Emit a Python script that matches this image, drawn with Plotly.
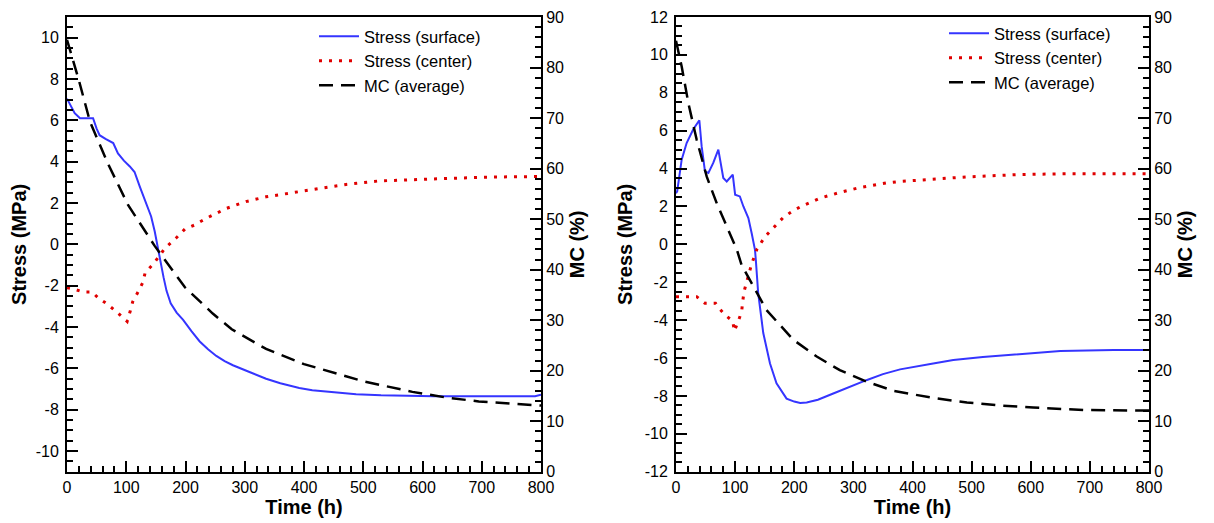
import plotly.graph_objects as go

# ---------------- Left panel data ----------------
t_surf_L = [0, 5, 13, 22, 44, 50, 55, 65, 78, 86, 96, 106, 114, 123, 134, 142, 148, 152, 157, 163, 168, 175, 185, 196,
            210, 224, 238, 252, 266, 280, 310, 336, 360, 392, 414, 450, 488, 530, 572, 620, 695, 750, 790, 800]
s_surf_L = [7.05, 6.8, 6.35, 6.1, 6.1, 5.6, 5.28, 5.1, 4.9, 4.4, 4.05, 3.77, 3.5, 2.78, 1.9, 1.35, 0.63, 0.0, -0.68,
            -1.6, -2.25, -2.85, -3.3, -3.65, -4.2, -4.7, -5.08, -5.4, -5.65, -5.85, -6.2, -6.5, -6.72, -6.95, -7.06,
            -7.17, -7.25, -7.3, -7.33, -7.35, -7.35, -7.35, -7.35, -7.28]

t_cen_L = [0, 10, 27, 42, 53, 66, 81, 90, 101.5, 107, 111, 120, 128, 132, 145, 157, 165, 185, 199, 215, 235, 269, 302,
           336, 375, 414, 471, 527, 583, 639, 695, 750, 800]
s_cen_L = [-2.1, -2.15, -2.3, -2.3, -2.6, -2.85, -3.2, -3.45, -3.73, -3.2, -2.77, -2.3, -1.84, -1.36, -0.97, -0.52,
           -0.19, 0.33, 0.74, 0.93, 1.26, 1.74, 2.07, 2.3, 2.48, 2.63, 2.9, 3.07, 3.13, 3.2, 3.24, 3.27, 3.28]

t_mc_L = [0, 10, 20, 39, 69, 103, 148, 199, 246, 278, 336, 400, 451, 500, 583, 639, 695, 751, 800]
mc_L = [85.5, 81.5, 77.5, 69.2, 61.0, 52.8, 44.7, 36.5, 31.3, 28.2, 24.3, 21.3, 19.5, 17.9, 15.8, 14.7, 13.9, 13.4, 13.1]

# ---------------- Right panel data ----------------
t_surf_R = [0, 2, 9.6, 18, 29, 39.5, 43.4, 49, 54.8, 63, 71.6, 80, 85.8, 96, 100, 108, 114, 122.4, 128, 133.6, 135, 139,
            147.6, 159, 170, 187, 200, 210, 221, 240, 266, 295, 322, 350, 379, 435, 469, 519, 587, 650, 740, 800]
s_surf_R = [2.7, 2.79, 4.47, 5.35, 6.06, 6.55, 5.17, 3.85, 3.77, 4.3, 5.0, 3.5, 3.32, 3.68, 2.62, 2.53, 2.0, 1.39, 0.59,
            -0.29, -0.82, -2.58, -4.68, -6.29, -7.34, -8.14, -8.3, -8.37, -8.35, -8.2, -7.87, -7.5, -7.17, -6.85, -6.6,
            -6.29, -6.11, -5.94, -5.76, -5.63, -5.58, -5.57]

t_cen_R = [0, 21, 35, 49, 66.8, 74.4, 83, 96, 98.7, 105.4, 111, 112.8, 115, 128, 137, 150.6, 164.7, 181.5, 198.5, 215,
           243.6, 277, 311, 356, 379, 435, 492, 576, 661, 785, 800]
s_cen_R = [-2.76, -2.76, -2.76, -3.11, -3.11, -3.43, -3.73, -4.05, -4.58, -4.05, -3.55, -3.03, -2.5, -1.03, -0.25, 0.41,
           0.86, 1.42, 1.79, 2.05, 2.44, 2.74, 3.0, 3.24, 3.32, 3.45, 3.56, 3.68, 3.73, 3.73, 3.73]

t_mc_R = [0, 9.6, 21, 35, 52, 69, 86, 103, 111, 131, 153, 198.5, 238, 277, 322.6, 368, 435, 492, 548, 604, 689, 800]
mc_R = [85.3, 80.2, 72.9, 65.7, 58.4, 53.1, 48.5, 43.9, 40.9, 36.6, 32.0, 26.1, 22.8, 20.1, 17.8, 16.0, 14.6, 13.7,
        13.1, 12.7, 12.2, 12.1]

# ---------------- Tick labels ----------------
time_ticks = [0, 100, 200, 300, 400, 500, 600, 700, 800]
stress_ticks_L = [-10, -8, -6, -4, -2, 0, 2, 4, 6, 8, 10]
stress_ticks_R = [-12, -10, -8, -6, -4, -2, 0, 2, 4, 6, 8, 10, 12]
mc_ticks = [0, 10, 20, 30, 40, 50, 60, 70, 80, 90]

series_names = ["Stress (surface)", "Stress (center)", "MC (average)"]

BLUE = "#3535FF"
RED = "#E00000"
BLACK = "#000000"
FONT = "Liberation Sans, Arial, sans-serif"

fig = go.Figure()

def add_panel(xa, ya_s, ya_m, leg, ts, ss, tc, sc, tm, mm):
    fig.add_trace(go.Scatter(x=ts, y=ss, mode="lines", name=series_names[0], legend=leg,
                             xaxis=xa, yaxis=ya_s, line=dict(color=BLUE, width=2)))
    fig.add_trace(go.Scatter(x=tc, y=sc, mode="lines", name=series_names[1], legend=leg,
                             xaxis=xa, yaxis=ya_s, line=dict(color=RED, width=3, dash="3px,7px")))
    fig.add_trace(go.Scatter(x=tm, y=mm, mode="lines", name=series_names[2], legend=leg,
                             xaxis=xa, yaxis=ya_m, line=dict(color=BLACK, width=2.5, dash="14px,8px")))

add_panel("x", "y", "y2", "legend", t_surf_L, s_surf_L, t_cen_L, s_cen_L, t_mc_L, mc_L)
add_panel("x2", "y3", "y4", "legend2", t_surf_R, s_surf_R, t_cen_R, s_cen_R, t_mc_R, mc_R)

# Page body adds an 8px offset; positions below are given in screen pixels.
W, H = 1214, 523
OFF = 8
def fx(px):
    return (px - OFF) / W
def fy(py):
    return 1 - (py - OFF) / H

ydom = [fy(471.7), fy(17)]
xdomL = [fx(67), fx(541)]
xdomR = [fx(676), fx(1149)]

tickfont = dict(family=FONT, size=16, color="black")
titlefont = dict(family=FONT, size=20, color="black")

common = dict(ticks="inside", ticklen=11, tickwidth=2, tickcolor="black", showline=True, linecolor="black",
              linewidth=2, showgrid=False, zeroline=False, tickfont=tickfont, automargin=False)

def minor(dt):
    return dict(tickmode="linear", tick0=0, dtick=dt, ticks="inside", ticklen=6, tickwidth=1.5, tickcolor="black")

def xaxis(dom, anchor):
    return dict(domain=dom, anchor=anchor, range=[0, 800], tickmode="array", tickvals=time_ticks,
                ticktext=[str(v) for v in time_ticks], minor=minor(20), mirror=True,
                title=dict(text="<b>Time (h)</b>", font=titlefont, standoff=4), **common)

def ystress(dom, anchor, rng, ticks):
    return dict(domain=dom, anchor=anchor, range=rng, tickmode="array", tickvals=ticks,
                ticktext=[str(v) for v in ticks], minor=minor(0.5), ticklabelstandoff=3,
                title=dict(text="<b>Stress (MPa)</b>", font=titlefont, standoff=7), **common)

def ymc(overlay, anchor):
    return dict(overlaying=overlay, anchor=anchor, side="right", range=[0, 90], tickmode="array", tickvals=mc_ticks,
                ticktext=[str(v) for v in mc_ticks], minor=minor(2),
                title=dict(text="<b>MC (%)</b>", font=titlefont, standoff=7), **common)

legfont = dict(family=FONT, size=16.5, color="black")

fig.update_layout(
    width=W, height=H, autosize=False,
    margin=dict(l=0, r=0, t=0, b=0),
    paper_bgcolor="white", plot_bgcolor="white",
    xaxis=xaxis(xdomL, "y"),
    yaxis=ystress(ydom, "x", [-11, 11], stress_ticks_L),
    yaxis2=ymc("y", "x"),
    xaxis2=xaxis(xdomR, "y3"),
    yaxis3=ystress(ydom, "x2", [-12, 12], stress_ticks_R),
    yaxis4=ymc("y3", "x2"),
    legend=dict(x=fx(314), y=fy(19), xanchor="left", yanchor="top", bgcolor="rgba(0,0,0,0)",
                borderwidth=0, font=legfont, itemwidth=40, tracegroupgap=0),
    legend2=dict(x=fx(944), y=fy(16), xanchor="left", yanchor="top", bgcolor="rgba(0,0,0,0)",
                 borderwidth=0, font=legfont, itemwidth=40, tracegroupgap=0),
    showlegend=True,
)

fig.write_html("out.html")
